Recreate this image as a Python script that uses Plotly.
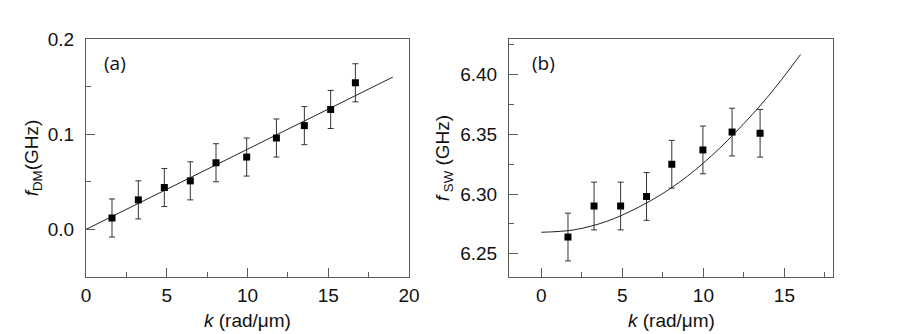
import plotly.graph_objects as go

k_dm = [1.61, 3.24, 4.85, 6.46, 8.05, 9.95, 11.79, 13.52, 15.15, 16.68]
f_dm = [0.012, 0.031, 0.044, 0.051, 0.070, 0.076, 0.096, 0.109, 0.126, 0.154]
f_dm_err = [0.02, 0.02, 0.02, 0.02, 0.02, 0.02, 0.02, 0.02, 0.02, 0.02]

k_sw = [1.64, 3.25, 4.89, 6.49, 8.05, 9.97, 11.77, 13.50]
f_sw = [6.264, 6.290, 6.290, 6.298, 6.325, 6.337, 6.352, 6.351]
f_sw_err = [0.02, 0.02, 0.02, 0.02, 0.02, 0.02, 0.02, 0.02]

# fit curves
fit_k_dm = [0, 5, 10, 15, 19]
fit_f_dm = [0.0, 0.042, 0.084, 0.126, 0.160]

fit_k_sw = [0, 2, 4, 6, 8, 10, 12, 14, 16]
fit_f_sw = [6.268, 6.270, 6.277, 6.289, 6.305, 6.326, 6.352, 6.382, 6.417]

AXIS_GREY = "#5a5a5a"
FONT = "Liberation Sans, Arial, sans-serif"
TEXT = "#111111"

fig = go.Figure()

fig.add_trace(go.Scatter(x=fit_k_dm, y=fit_f_dm, mode="lines",
                         line=dict(color="#222222", width=1),
                         xaxis="x", yaxis="y", showlegend=False))
fig.add_trace(go.Scatter(x=k_dm, y=f_dm, mode="markers",
                         marker=dict(symbol="square", size=7, color="black"),
                         error_y=dict(type="data", array=f_dm_err, visible=True,
                                      color="#333333", thickness=1, width=3),
                         xaxis="x", yaxis="y", showlegend=False))

fig.add_trace(go.Scatter(x=fit_k_sw, y=fit_f_sw, mode="lines",
                         line=dict(color="#222222", width=1, shape="spline"),
                         xaxis="x2", yaxis="y2", showlegend=False))
fig.add_trace(go.Scatter(x=k_sw, y=f_sw, mode="markers",
                         marker=dict(symbol="square", size=7, color="black"),
                         error_y=dict(type="data", array=f_sw_err, visible=True,
                                      color="#333333", thickness=1, width=3),
                         xaxis="x2", yaxis="y2", showlegend=False))

common = dict(
    showline=True, linecolor=AXIS_GREY, linewidth=1, mirror=True,
    ticks="inside", ticklen=9, tickcolor=AXIS_GREY, tickwidth=1,
    showgrid=False, zeroline=False, automargin=False,
    tickfont=dict(family=FONT, size=19, color=TEXT),
    title_font=dict(family=FONT, size=19, color=TEXT),
)

k_title = "<i>k</i> (rad/\u03bcm)"

# the page body keeps an 8px margin, so the figure is 892x326 placed at (8, 8)
fig.update_layout(
    width=892, height=326,
    margin=dict(l=0, r=0, t=0, b=0),
    paper_bgcolor="white", plot_bgcolor="white",
    xaxis=dict(domain=[0.08744, 0.44955], range=[0, 20], dtick=5,
               ticklabelstandoff=1,
               minor=dict(dtick=2.5, ticks="inside", ticklen=5, tickcolor=AXIS_GREY),
               anchor="y", **common),
    yaxis=dict(domain=[0.17485, 0.90491], range=[-0.05, 0.2], dtick=0.1, tickformat=".1f",
               ticklabelstandoff=7,
               minor=dict(dtick=0.05, ticks="inside", ticklen=5, tickcolor=AXIS_GREY),
               title=dict(text="<i>f</i><sub>DM</sub>(GHz)", standoff=4), anchor="x", **common),
    xaxis2=dict(domain=[0.56166, 0.92489], range=[-2, 18], dtick=5,
                ticklabelstandoff=1,
                minor=dict(dtick=2.5, ticks="inside", ticklen=5, tickcolor=AXIS_GREY),
                anchor="y2", **common),
    yaxis2=dict(domain=[0.17485, 0.90491], range=[6.2305, 6.43], dtick=0.05, tickformat=".2f",
                tick0=6.25, ticklabelstandoff=7,
                minor=dict(dtick=0.025, ticks="inside", ticklen=5, tickcolor=AXIS_GREY),
                title=dict(text="<i>f</i><sub> SW</sub> (GHz)", standoff=5), anchor="x2", **common),
    annotations=[
        dict(text="(a)", x=0.10538, y=0.83129, xref="paper", yref="paper",
             xanchor="left", yanchor="middle", showarrow=False,
             font=dict(family="Open Sans, sans-serif", size=19, color=TEXT)),
        dict(text="(b)", x=0.5852, y=0.83129, xref="paper", yref="paper",
             xanchor="left", yanchor="middle", showarrow=False,
             font=dict(family="Open Sans, sans-serif", size=19, color=TEXT)),
        dict(text=k_title, x=0.2685, y=0.04294, xref="paper", yref="paper",
             xanchor="center", yanchor="middle", showarrow=False,
             font=dict(family=FONT, size=19, color=TEXT)),
        dict(text=k_title, x=0.7433, y=0.04294, xref="paper", yref="paper",
             xanchor="center", yanchor="middle", showarrow=False,
             font=dict(family=FONT, size=19, color=TEXT)),
    ],
)

fig.write_html("out.html")
